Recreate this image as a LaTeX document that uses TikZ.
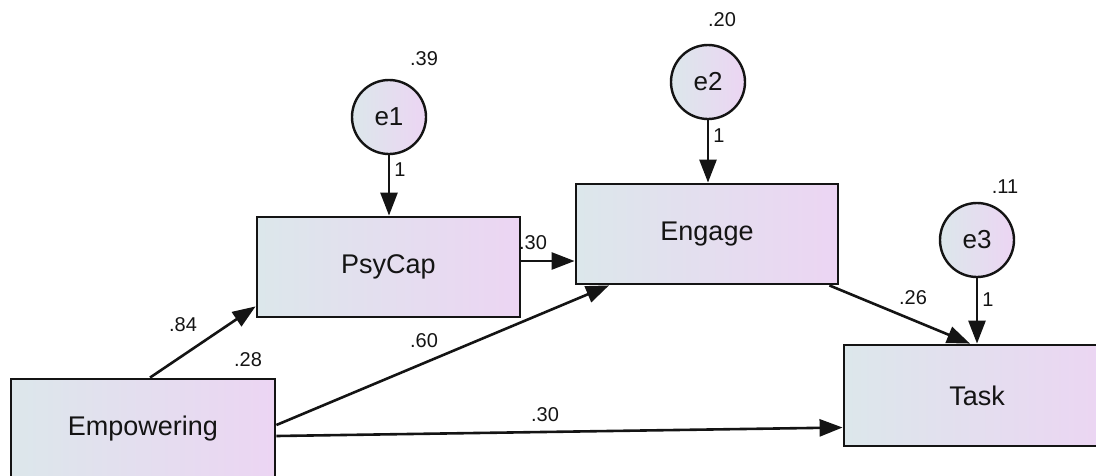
\documentclass[tikz,border=0pt]{standalone}
\usepackage{fontspec}
\setmainfont{Liberation Sans}
\usetikzlibrary{arrows.meta,calc}
\definecolor{shadeL}{RGB}{220,231,235}
\definecolor{shadeR}{RGB}{236,213,243}
\definecolor{ink}{RGB}{20,20,20}
\tikzset{
  obsbox/.style={draw=ink, line width=2.8pt, left color=shadeL, right color=shadeR,
    minimum width=263pt, minimum height=100pt, inner sep=0pt,
    font=\fontsize{27}{30}\selectfont, text=ink},
  errvar/.style={circle, draw=ink, line width=2.4pt, left color=shadeL, right color=shadeR,
    minimum size=74pt, inner sep=0pt, font=\fontsize{26}{30}\selectfont, text=ink},
  path/.style={draw=ink, line width=2.6pt, -{Triangle[length=23pt, width=17pt]}},
  coef/.style={font=\fontsize{20}{23}\selectfont, text=ink, inner sep=0pt}
}
\begin{document}
\begin{tikzpicture}[x=1pt, y=-1pt]
\useasboundingbox (0,0) rectangle (1096,475);
\clip (0,0) rectangle (1096,475);

% observed variables
\node[obsbox, minimum width=264pt] (emp) at (143,429) {Empowering};
\node[obsbox] (psy) at (388.5,267) {PsyCap};
\node[obsbox, minimum width=262pt] (eng) at (707,234) {Engage};
\node[obsbox, minimum width=266pt, minimum height=101pt] (task) at (977,395.5) {Task};

% error terms
\node[errvar] (e1) at (389,117) {e1};
\node[errvar] (e2) at (708,82) {e2};
\node[errvar] (e3) at (977,240) {e3};

% error paths
\draw[path] (e1.south) -- (e1.south |- psy.north);
\draw[path] (e2.south) -- (e2.south |- eng.north);
\draw[path] (e3.south) -- (e3.south |- task.north);

% structural paths
\coordinate (pcout) at ([yshift=6pt]psy.east);
\draw[path] (pcout) -- (pcout -| eng.west);
\draw[path] ([xshift=7pt]emp.north) -- ([yshift=12pt]psy.south west);
\draw[path] ([yshift=4pt]emp.east) -- ($(eng.south west)!0.13!(eng.south east)$);
\draw[path] ([yshift=-7pt]emp.east) -- ([yshift=-32pt]task.west);
\draw[path] ([xshift=-10pt]eng.south east) -- ([xshift=-7pt]task.north);

% estimates
\node[coef] (r1) at (424,59) {.39};
\node[coef] (r2) at (722,20) {.20};
\node[coef] (r3) at (1005,187) {.11};
\node[coef] (r0) at (248,360) {.28};
\node[coef] (w1) at (183,325) {.84};
\node[coef] (w2) at (424,341) {.60};
\node[coef] (w3) at (533,243) {.30};
\node[coef] (w4) at (545,415) {.30};
\node[coef] (w5) at (913,298) {.26};
\node[coef] (f1) at (400,170) {1};
\node[coef] (f2) at (719,136) {1};
\node[coef] (f3) at (988,300) {1};
\end{tikzpicture}
\end{document}
